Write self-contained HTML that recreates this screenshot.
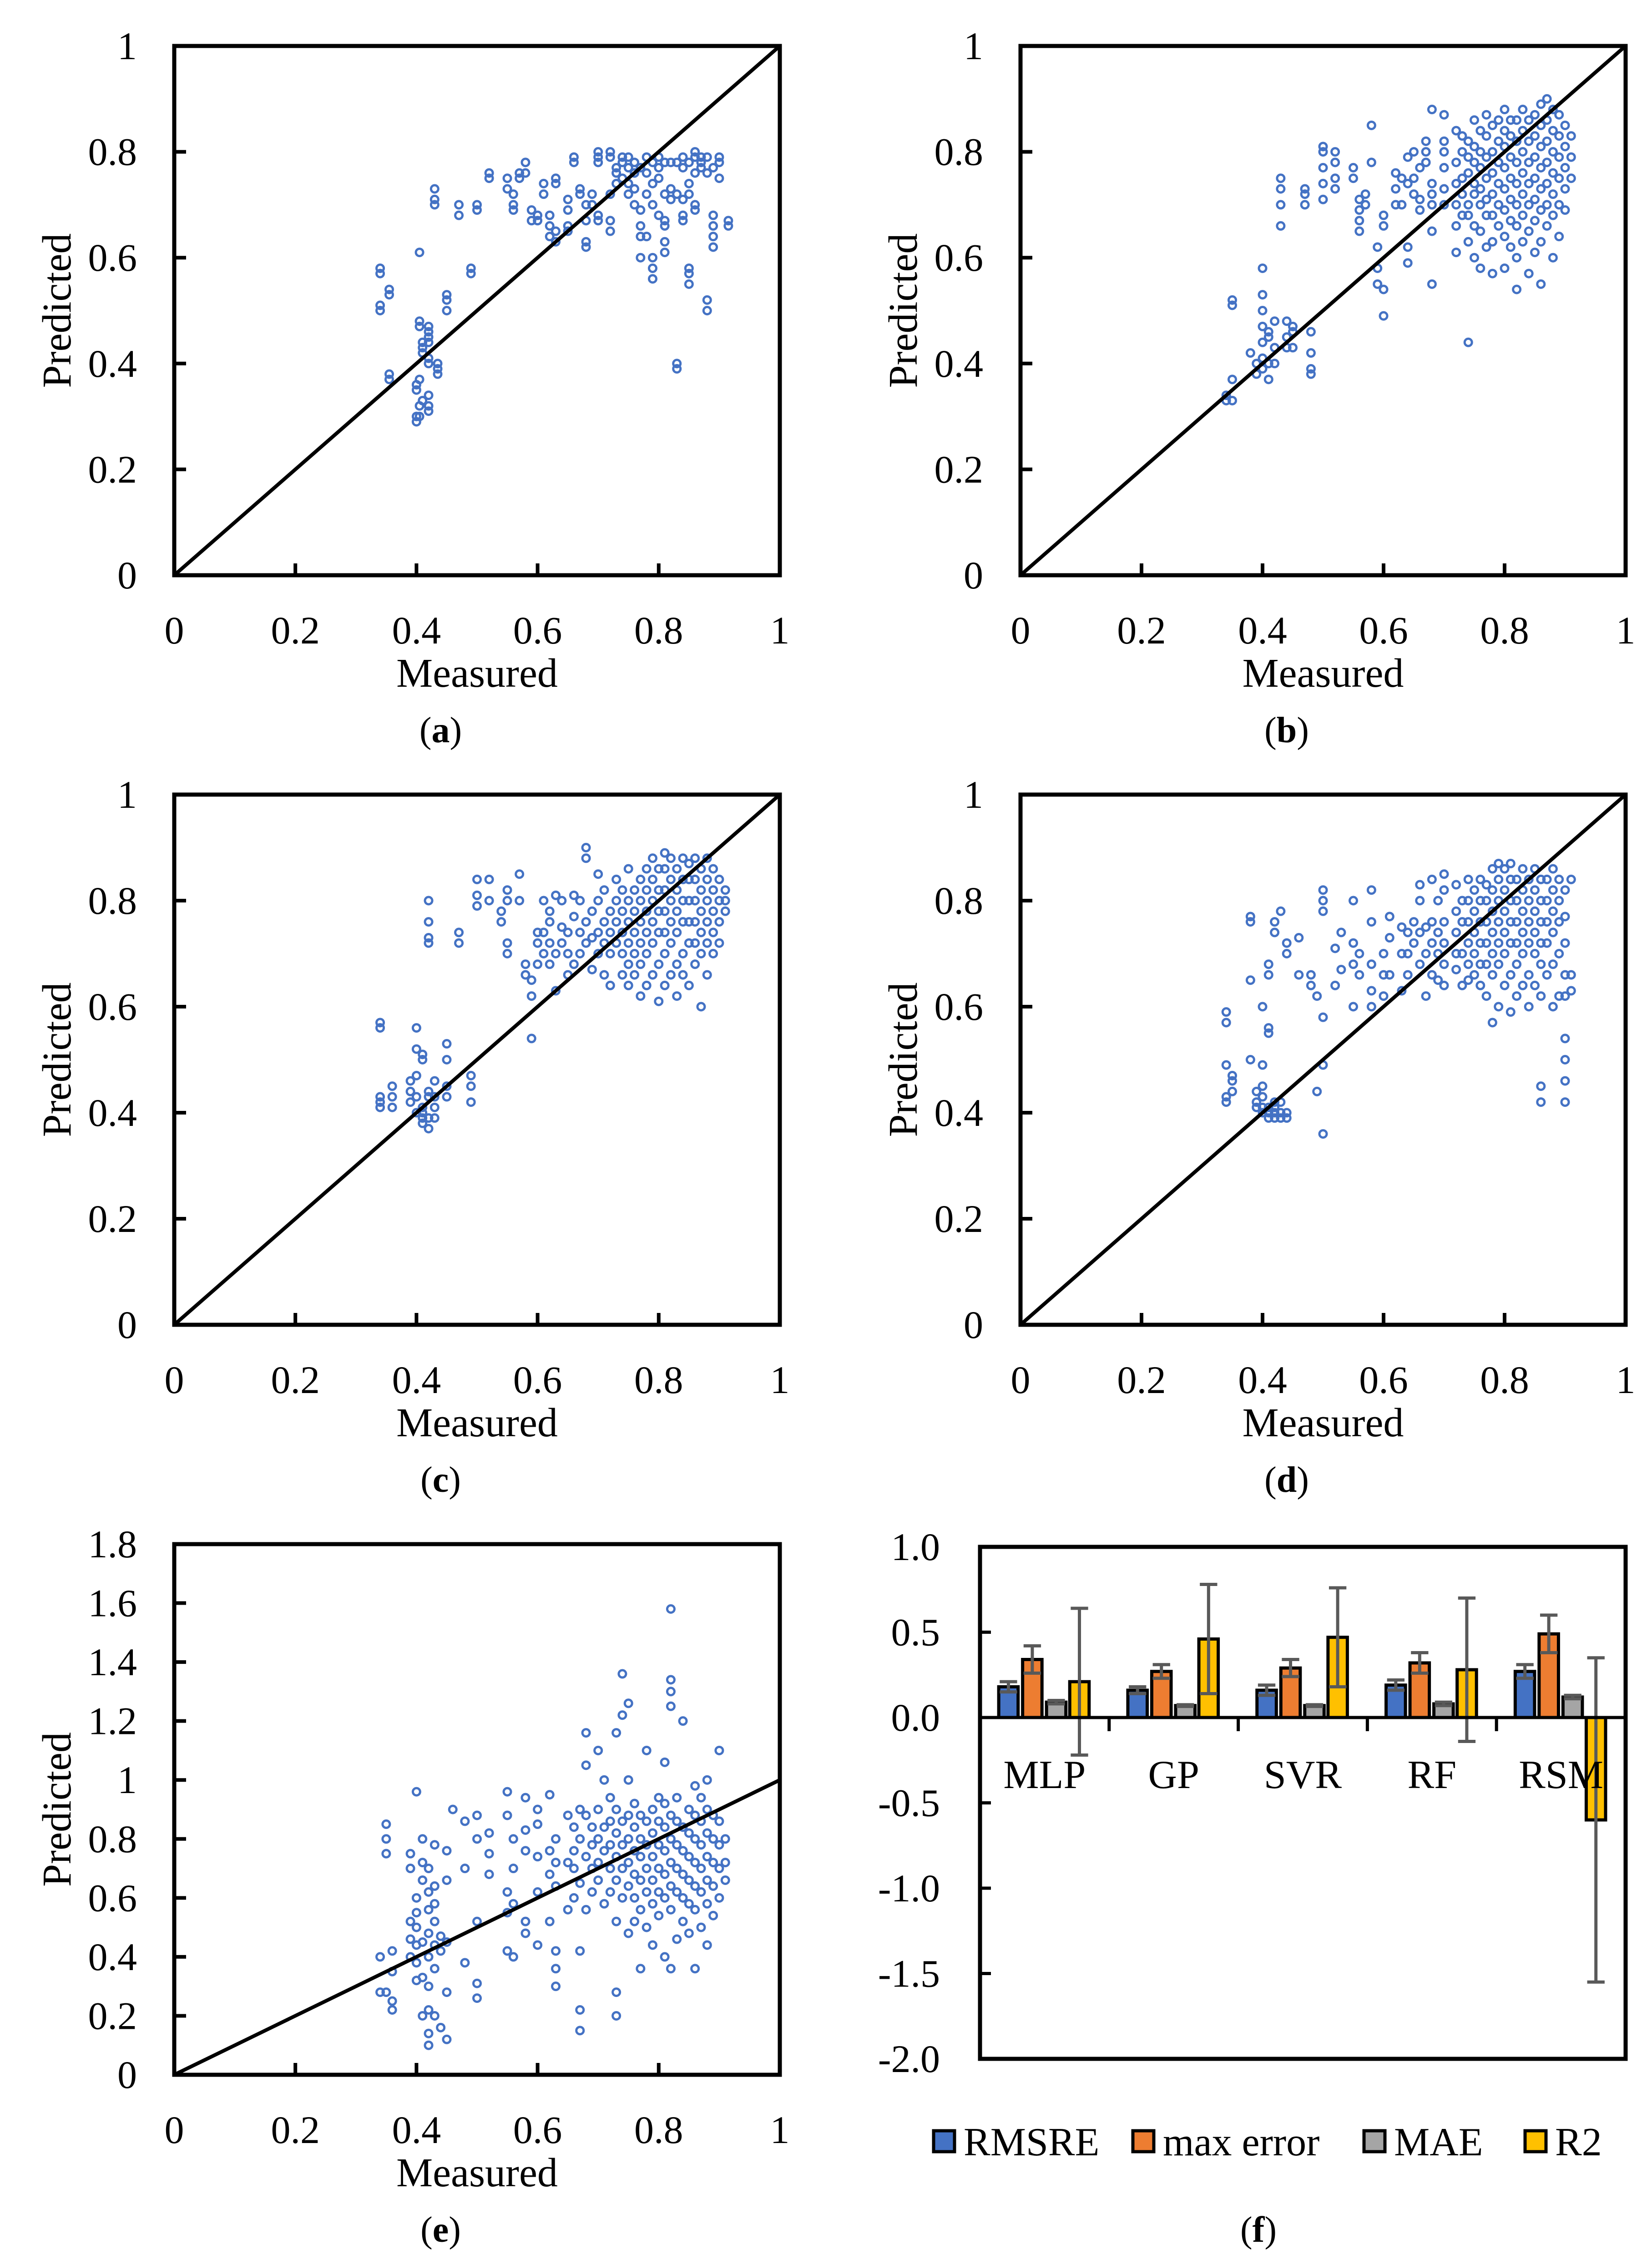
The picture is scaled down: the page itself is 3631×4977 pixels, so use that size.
<!DOCTYPE html>
<html><head><meta charset="utf-8"><style>
html,body{margin:0;padding:0;background:#fff}
svg{display:block}
text{font-family:"Liberation Serif",serif;fill:#000}
</style></head><body>
<svg id="fig" width="3631" height="4977" viewBox="0 0 3631 4977" xmlns="http://www.w3.org/2000/svg"></svg>
<script>
// ---- scatter data: [measured, [predicted values...]] ----
const panelA = [[.34,[.50,.51,.57,.58]],[.355,[.37,.38,.53,.54]],[.40,[.29,.30,.35,.36]],[.405,[.30,.32,.37,.47,.48,.61]],[.41,[.42,.43,.44,.33]],[.42,[.44,.45,.46,.47,.40,.41,.31,.32,.34]],[.435,[.38,.39,.40]],[.43,[.70,.71,.73]],[.45,[.50,.52,.53]],[.47,[.68,.70]],[.49,[.57,.58]],[.50,[.69,.70]],[.52,[.75,.76]],[.55,[.73,.75]],[.56,[.69,.70,.72]],[.57,[.75,.76]],[.58,[.76,.78]],[.59,[.67,.69]],[.60,[.67,.68]],[.61,[.72,.74]],[.62,[.64,.66,.68]],[.63,[.63,.65,.74,.75]],[.65,[.65,.66,.69,.71]],[.66,[.78,.79]],[.67,[.72,.73]],[.68,[.62,.63,.67,.70]],[.69,[.70,.72]],[.70,[.67,.68,.78,.79,.80]],[.72,[.65,.67,.72,.79,.80]],[.73,[.74,.76,.77]],[.74,[.75,.78,.79]],[.75,[.72,.74,.77,.79]],[.76,[.70,.73,.76,.78]],[.77,[.60,.64,.66,.69,.77]],[.78,[.64,.72,.76,.79]],[.79,[.56,.58,.60,.70,.74,.78]],[.80,[.68,.75,.77,.79]],[.81,[.61,.63,.66,.67,.72,.78]],[.82,[.71,.73,.78]],[.83,[.39,.40,.72,.78]],[.84,[.67,.68,.71,.77,.79]],[.85,[.55,.57,.58,.72,.74,.78]],[.86,[.69,.70,.76,.79,.80]],[.87,[.77,.78,.79]],[.88,[.50,.52,.76,.79]],[.89,[.62,.64,.66,.68,.77]],[.90,[.75,.78,.79]],[.915,[.66,.67]]];
const panelB = [[.34,[.33,.34]],[.35,[.33,.37,.51,.52]],[.38,[.42]],[.39,[.38,.40]],[.40,[.39,.41,.44,.47,.50,.53,.58]],[.41,[.37,.40,.45,.46]],[.42,[.40,.43,.48]],[.43,[.66,.70,.73,.75]],[.44,[.43,.45,.48]],[.45,[.43,.46,.47]],[.47,[.70,.72,.73]],[.48,[.38,.39,.42,.46]],[.50,[.71,.74,.77,.80,.81]],[.52,[.73,.75,.78,.80]],[.55,[.75,.77]],[.56,[.65,.67,.69,.71]],[.57,[.70,.72]],[.58,[.78,.85]],[.59,[.55,.58,.62]],[.60,[.49,.54,.66,.68]],[.62,[.70,.73,.76]],[.63,[.70,.75]],[.64,[.59,.62,.74,.79]],[.65,[.72,.75,.80]],[.66,[.69,.71,.77]],[.67,[.78,.80,.82]],[.68,[.55,.65,.70,.72,.74,.88]],[.70,[.70,.73,.77,.80,.82,.87]],[.72,[.61,.66,.70,.74,.78,.84]],[.73,[.68,.72,.75,.80,.83]],[.74,[.44,.63,.68,.70,.76,.79,.82]],[.75,[.60,.66,.72,.74,.78,.81,.86]],[.76,[.58,.65,.70,.73,.77,.80,.84]],[.77,[.62,.68,.71,.75,.79,.83,.87]],[.78,[.57,.63,.68,.72,.76,.80,.85]],[.79,[.66,.70,.74,.78,.82,.86]],[.80,[.58,.64,.69,.73,.77,.81,.84,.88]],[.81,[.62,.67,.71,.75,.79,.83,.86]],[.82,[.54,.60,.66,.70,.74,.78,.82,.86]],[.83,[.63,.68,.72,.76,.80,.84,.88]],[.84,[.57,.65,.70,.74,.78,.82,.86]],[.85,[.61,.67,.71,.75,.79,.83,.87]],[.86,[.55,.63,.69,.73,.77,.81,.85,.89]],[.87,[.66,.70,.74,.78,.82,.86,.90]],[.88,[.60,.68,.72,.76,.80,.84,.88]],[.89,[.64,.70,.75,.79,.83,.87]],[.90,[.69,.73,.77,.81,.85]],[.91,[.75,.79,.83]]];
const panelC = [[.34,[.41,.42,.43,.56,.57]],[.36,[.41,.43,.45]],[.39,[.42,.44,.46]],[.40,[.40,.43,.47,.52,.56]],[.41,[.38,.39,.40,.41,.50,.51]],[.42,[.37,.39,.43,.44,.72,.73,.76,.80]],[.43,[.39,.41,.43,.46]],[.45,[.43,.45,.50,.53]],[.47,[.72,.74]],[.49,[.42,.45,.47]],[.50,[.79,.81,.84]],[.52,[.80,.84]],[.54,[.76,.78]],[.55,[.70,.72,.80,.82]],[.57,[.85,.80]],[.58,[.66,.68]],[.59,[.54,.62,.65]],[.60,[.68,.72,.74]],[.61,[.70,.74,.80]],[.62,[.68,.72,.76,.78]],[.63,[.63,.70,.81]],[.64,[.72,.75,.80]],[.65,[.66,.70,.74]],[.66,[.68,.77,.81]],[.67,[.70,.74,.80]],[.68,[.72,.76,.90,.88]],[.69,[.67,.73,.78]],[.70,[.70,.74,.80,.85]],[.71,[.66,.72,.76,.82]],[.72,[.64,.70,.74,.78]],[.73,[.72,.76,.80,.84]],[.74,[.66,.70,.74,.78,.82]],[.75,[.64,.68,.72,.76,.80,.86]],[.76,[.66,.70,.74,.78,.82]],[.77,[.62,.68,.72,.76,.80,.84]],[.78,[.64,.70,.74,.78,.82,.86]],[.79,[.66,.72,.76,.80,.84,.88]],[.80,[.61,.68,.74,.78,.82,.86]],[.81,[.64,.70,.74,.78,.82,.86,.89]],[.82,[.66,.72,.76,.80,.84,.88]],[.83,[.62,.68,.74,.78,.82,.86]],[.84,[.66,.70,.76,.80,.84,.88]],[.85,[.64,.72,.76,.80,.84,.87]],[.86,[.68,.72,.76,.80,.84,.88]],[.87,[.60,.70,.74,.78,.82,.86]],[.88,[.66,.72,.76,.80,.84,.88]],[.89,[.70,.74,.78,.82,.86]],[.90,[.72,.76,.80,.84]],[.91,[.78,.80,.82]]];
const panelD = [[.34,[.42,.43,.49,.57,.59]],[.35,[.44,.46,.47]],[.38,[.50,.65,.76,.77]],[.39,[.41,.42,.44]],[.40,[.40,.41,.43,.45,.49,.60]],[.41,[.39,.40,.41,.55,.56,.66,.68]],[.42,[.39,.40,.41,.42,.74,.76]],[.43,[.39,.40,.42,.78]],[.44,[.39,.40,.70,.72]],[.46,[.66,.73]],[.48,[.66,.64]],[.49,[.44,.62]],[.50,[.36,.49,.58,.78,.80,.82]],[.52,[.64,.71]],[.53,[.67,.74]],[.55,[.60,.68,.72,.80]],[.56,[.66,.70]],[.58,[.60,.63,.68,.76,.82]],[.60,[.62,.66,.70]],[.61,[.66,.73,.77]],[.63,[.63,.70,.75]],[.64,[.66,.70,.74]],[.65,[.72,.76]],[.66,[.68,.74,.80,.83]],[.67,[.62,.70,.75]],[.68,[.66,.72,.76,.84]],[.69,[.65,.70,.74,.80]],[.70,[.64,.68,.72,.76,.82,.85]],[.72,[.67,.70,.74,.78,.83]],[.73,[.64,.70,.76,.80]],[.74,[.65,.68,.72,.76,.80,.84]],[.75,[.66,.70,.74,.78,.82]],[.76,[.64,.68,.72,.76,.80,.84]],[.77,[.62,.68,.72,.76,.80,.83]],[.78,[.57,.66,.70,.74,.78,.82,.86]],[.79,[.60,.68,.72,.76,.80,.84,.87]],[.80,[.64,.70,.74,.78,.82,.86]],[.81,[.59,.66,.72,.76,.80,.84,.87]],[.82,[.62,.68,.72,.76,.80,.84]],[.83,[.64,.70,.74,.78,.82,.86]],[.84,[.60,.66,.72,.76,.80,.84]],[.85,[.64,.70,.74,.78,.82,.86]],[.86,[.42,.45,.62,.68,.72,.76,.80,.84]],[.87,[.66,.72,.76,.80,.84]],[.88,[.60,.68,.74,.78,.82,.86]],[.89,[.62,.70,.76,.80,.84]],[.90,[.42,.46,.50,.54,.62,.66,.72,.77,.82]],[.91,[.63,.66,.84]]];
const panelE = [[.34,[.28,.40]],[.35,[.80,.85,.75,.28]],[.36,[.22,.25,.35,.42]],[.39,[.40,.46,.52,.70,.75]],[.40,[.32,.38,.44,.50,.55,.60,.96]],[.41,[.20,.33,.45,.66,.72,.80]],[.42,[.10,.14,.22,.30,.40,.48,.56,.62,.70]],[.43,[.20,.36,.44,.52,.58,.64,.78]],[.44,[.16,.42,.47]],[.45,[.12,.28,.45,.66,.76]],[.46,[.90]],[.48,[.38,.70,.86]],[.50,[.26,.31,.52,.80,.88]],[.52,[.68,.75,.82]],[.55,[.42,.55,.62,.88,.96]],[.56,[.40,.58,.70,.80]],[.58,[.48,.52,.76,.83,.94]],[.60,[.44,.62,.74,.85,.90]],[.62,[.52,.68,.76,.95]],[.63,[.30,.36,.42,.64,.72,.80]],[.65,[.56,.72,.88]],[.66,[.60,.70,.76,.84]],[.67,[.15,.22,.42,.65,.80,.90]],[.68,[.56,.74,.88,1.16,1.05]],[.69,[.62,.70,.78,.84]],[.70,[.66,.72,.80,.90,1.10]],[.71,[.58,.76,.84,1.00]],[.72,[.62,.70,.78,.86,.94]],[.73,[.20,.28,.52,.66,.74,.82,.90,1.16]],[.74,[.60,.70,.78,.86,1.22,1.36]],[.75,[.48,.64,.72,.80,.88,1.00,1.26]],[.76,[.52,.60,.68,.76,.84,.92]],[.77,[.36,.56,.66,.74,.80,.88]],[.78,[.50,.62,.70,.78,.86,1.10]],[.79,[.44,.58,.66,.74,.82,.90]],[.80,[.54,.62,.70,.78,.86,.94]],[.81,[.40,.60,.68,.76,.84,.92,1.06]],[.82,[.36,.56,.64,.72,.80,.88,1.25,1.30,1.34,1.58]],[.83,[.46,.62,.70,.78,.86,.94]],[.84,[.52,.60,.68,.76,.84,1.20]],[.85,[.48,.58,.66,.74,.82,.90]],[.86,[.36,.56,.64,.72,.80,.88,.98]],[.87,[.50,.62,.70,.78,.86,.94]],[.88,[.44,.58,.66,.74,.82,.90,1.00]],[.89,[.54,.64,.72,.80,.88]],[.90,[.60,.70,.78,.86,1.10]],[.91,[.66,.72,.80]]];
const xTicks = [0,0.2,0.4,0.6,0.8,1];
const yTicks01 = [0,0.2,0.4,0.6,0.8,1];
const yTicksE = [0,0.2,0.4,0.6,0.8,1,1.2,1.4,1.6,1.8];
// ---- bar chart data ----
const models = ["MLP","GP","SVR","RF","RSM"];
const metrics = ["RMSRE","max error","MAE","R2"];
const rmsre = [0.18,0.16,0.16,0.19,0.27];
const rmsreErr = [0.03,0.02,0.03,0.03,0.04];
const maxError = [0.34,0.27,0.29,0.32,0.49];
const maxErrorErr = [0.08,0.04,0.05,0.06,0.11];
const mae = [0.09,0.07,0.07,0.08,0.12];
const maeErr = [0.01,0.005,0.005,0.01,0.01];
const r2 = [0.21,0.46,0.47,0.28,-0.60];
const r2Err = [0.43,0.32,0.29,0.42,0.95];
const barTicks = [1.0,0.5,0.0,-0.5,-1.0,-1.5,-2.0];

const NS="http://www.w3.org/2000/svg";
const svg=document.getElementById('fig');
function el(tag,attrs,parent){const e=document.createElementNS(NS,tag);for(const k in attrs)e.setAttribute(k,attrs[k]);(parent||svg).appendChild(e);return e;}
function txt(s,attrs,parent){const e=el('text',attrs,parent);e.textContent=s;return e;}

function scatter(id,data,L,T,R,B,ymax,yt,letter){
  const g=el('g',{});
  
  
  const sx=v=>L+(R-L)*v, sy=v=>B-(B-T)*v/ymax;
  const pg=el('g',{fill:'none',stroke:'#4472C4','stroke-width':5},g);
  
  
  data.forEach(([x,ys])=>ys.forEach(y=>{
    const c=el('circle',{cx:sx(x),cy:sy(y),r:8},pg);
    
    
  }));
  const dl=el('line',{x1:sx(0),y1:sy(0),x2:sx(1),y2:sy(1),stroke:'#000','stroke-width':8},g);
  
  
  const fr=el('rect',{x:L,y:T,width:R-L,height:B-T,fill:'none',stroke:'#000','stroke-width':9},g);
  
  
  xTicks.forEach(v=>{
    el('line',{x1:sx(v),y1:B,x2:sx(v),y2:B-26,stroke:'#000','stroke-width':8},g);
    const t=txt(String(v),{x:sx(v),y:B+150,'font-size':86,'text-anchor':'middle'},g);
    
    
  });
  yt.forEach(v=>{
    el('line',{x1:L,y1:sy(v),x2:L+26,y2:sy(v),stroke:'#000','stroke-width':8},g);
    const t=txt(String(v),{x:L-82,y:sy(v)+29,'font-size':86,'text-anchor':'end'},g);
    
    
  });
  const xt=txt('Measured',{x:(L+R)/2,y:B+245,'font-size':90,'text-anchor':'middle'},g);
  
  
  const cy=(T+B)/2;
  const ytt=txt('Predicted',{x:L-258,y:cy+30,'font-size':90,'text-anchor':'middle',transform:`rotate(-90 ${L-258} ${cy})`},g);
  
  
  const lab=el('text',{x:(L+R)/2-80,y:B+367,'font-size':80,'text-anchor':'middle'},g);
  lab.innerHTML='(<tspan font-weight="bold">'+letter+'</tspan>)';
  
  
}
scatter('a',panelA,383,101,1714,1264,1,yTicks01,'a');
scatter('b',panelB,2243,101,3573,1264,1,yTicks01,'b');
scatter('c',panelC,383,1746,1714,2911,1,yTicks01,'c');
scatter('d',panelD,2243,1746,3573,2911,1,yTicks01,'d');
scatter('e',panelE,383,3393,1714,4559,1.8,yTicksE,'e');

// ---- bar chart (f) ----
(function(){
  const L=2154,R=3573,T=3399,B=4524,ymin=-2,ymax=1;
  const g=el('g',{});
  
  
  const sy=v=>B-(B-T)*(v-ymin)/(ymax-ymin);
  const gw=(R-L)/models.length;
  const colors=['#4472C4','#ED7D31','#A5A5A5','#FFC000'];
  const series=[[rmsre,rmsreErr],[maxError,maxErrorErr],[mae,maeErr],[r2,r2Err]];
  const offs=[0.22,0.405,0.59,0.77], bw=gw*0.15;
  barTicks.forEach(v=>{
    el('line',{x1:L,y1:sy(v),x2:L+24,y2:sy(v),stroke:'#000','stroke-width':7},g);
    const t=txt(v.toFixed(1),{x:L-88,y:sy(v)+29,'font-size':86,'text-anchor':'end'},g);
    
    
  });
  models.forEach((m,i)=>{
    const gx=L+i*gw;
    series.forEach(([vals,errs],j)=>{
      const v=vals[i],e=errs[i];
      const cx=gx+gw*offs[j];
      const y0=sy(0),y1=sy(v);
      const r=el('rect',{x:cx-bw/2,y:Math.min(y0,y1),width:bw,height:Math.abs(y1-y0),fill:colors[j],stroke:'#000','stroke-width':7},g);
      
      
      const eg=el('g',{stroke:'#595959','stroke-width':7},g);
      
      
      el('line',{x1:cx,y1:sy(v-e),x2:cx,y2:sy(v+e)},eg);
      el('line',{x1:cx-bw*0.45,y1:sy(v-e),x2:cx+bw*0.45,y2:sy(v-e)},eg);
      el('line',{x1:cx-bw*0.45,y1:sy(v+e),x2:cx+bw*0.45,y2:sy(v+e)},eg);
    });
    const t=txt(m,{x:gx+gw/2,y:sy(0)+155,'font-size':88,'text-anchor':'middle'},g);
    
    
    if(i>0) el('line',{x1:gx,y1:sy(0),x2:gx,y2:sy(0)+30,stroke:'#000','stroke-width':7},g);
  });
  el('line',{x1:L,y1:sy(0),x2:R,y2:sy(0),stroke:'#000','stroke-width':7},g);
  const fr=el('rect',{x:L,y:T,width:R-L,height:B-T,fill:'none',stroke:'#000','stroke-width':9},g);
  
  
  const lx=[2052,2490,2998,3352];
  metrics.forEach((m,j)=>{
    const lg=el('g',{},g);
    
    
    el('rect',{x:lx[j],y:4682,width:46,height:46,fill:colors[j],stroke:'#000','stroke-width':7},lg);
    txt(m,{x:lx[j]+66,y:4736,'font-size':88},lg);
  });
  const lab=el('text',{x:2766,y:4926,'font-size':80,'text-anchor':'middle'},g);
  lab.innerHTML='(<tspan font-weight="bold">f</tspan>)';
  
  
})();
</script>
</body></html>
